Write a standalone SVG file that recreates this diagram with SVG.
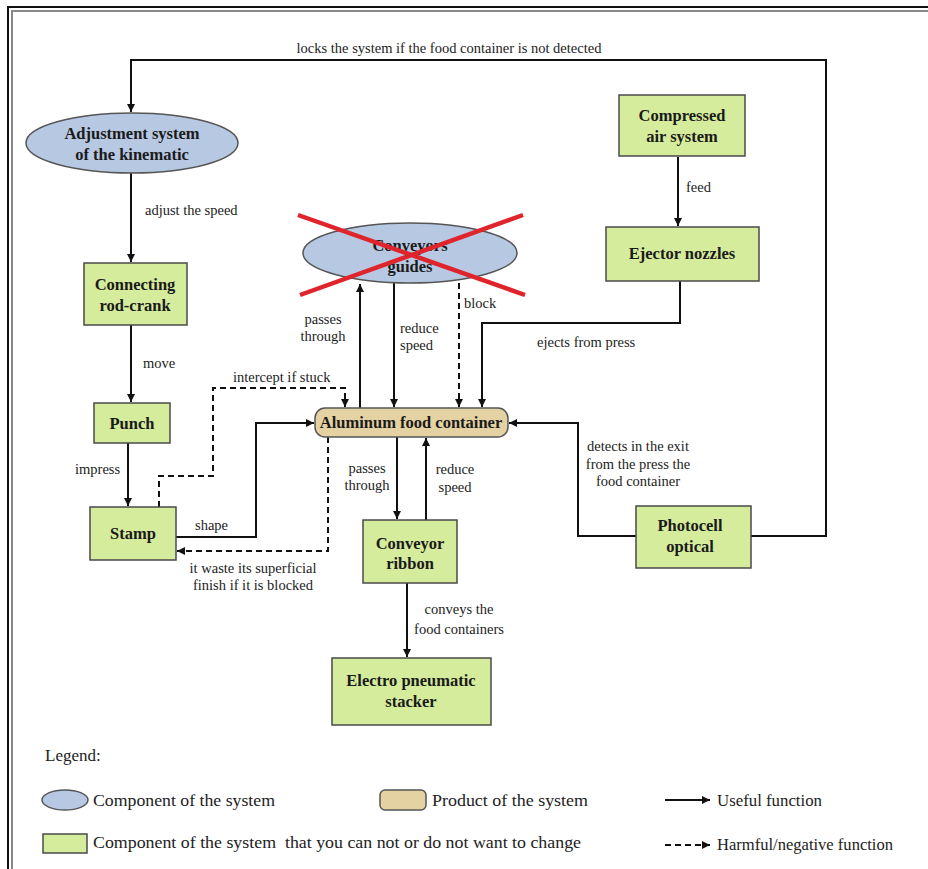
<svg xmlns="http://www.w3.org/2000/svg" width="928" height="869" viewBox="0 0 928 869" font-family="'Liberation Serif','Times New Roman',serif">
<defs>
<marker id="ah" viewBox="0 0 10 10" refX="10" refY="5" markerWidth="8" markerHeight="8" markerUnits="userSpaceOnUse" orient="auto"><path d="M0,0 L10,5 L0,10 z" fill="#111"/></marker>
<style>
.ln{fill:none;stroke:#111;stroke-width:2}
.ds{fill:none;stroke:#111;stroke-width:2;stroke-dasharray:6,4}
.gr{fill:#d5ec9c;stroke:#4a4a4a;stroke-width:1.5}
.bl{fill:#b7c8e2;stroke:#555;stroke-width:1.5}
.tn{fill:#e5d2a2;stroke:#555;stroke-width:1.5}
.nt{font-family:'Liberation Serif','Times New Roman',serif;font-weight:bold;font-size:16.5px;fill:#1a1a1a;text-anchor:middle}
.et{font-family:'Liberation Serif','Times New Roman',serif;font-size:14.5px;fill:#222}
.lg{font-family:'Liberation Serif','Times New Roman',serif;font-size:17px;fill:#222}
</style>
</defs>
<rect width="928" height="869" fill="#fff"/>
<g id="frame">
<path d="M8,869 V7 H928" fill="none" stroke="#111" stroke-width="2"/>
<path d="M12,869 V11 H928" fill="none" stroke="#888" stroke-width="2"/>
</g>

<g id="connectors">
<path class="ln" d="M750,536 H826 V60 H131 V112" marker-end="url(#ah)"/>
<text class="et" x="449" y="53" text-anchor="middle">locks the system if the food container is not detected</text>
<path class="ln" d="M131,173 V262" marker-end="url(#ah)"/>
<text class="et" x="145" y="215">adjust the speed</text>
<path class="ln" d="M131,325 V402" marker-end="url(#ah)"/>
<text class="et" x="143" y="368">move</text>
<path class="ln" d="M128,443 V506" marker-end="url(#ah)"/>
<text class="et" x="75" y="474">impress</text>
<path class="ln" d="M176,537 H256 V423 H314" marker-end="url(#ah)"/>
<text class="et" x="195" y="530">shape</text>
<path class="ds" d="M159,507 V476 H213 V388 H345 V407" marker-end="url(#ah)"/>
<text class="et" x="233" y="382">intercept if stuck</text>
<path class="ds" d="M328,437 V551 H177" marker-end="url(#ah)"/>
<text class="et" x="253" y="573" text-anchor="middle">it waste its superficial</text>
<text class="et" x="253" y="590" text-anchor="middle">finish if it is blocked</text>
<path class="ln" d="M360,408 V284" marker-end="url(#ah)"/>
<text class="et" x="323" y="324" text-anchor="middle">passes</text>
<text class="et" x="323" y="341" text-anchor="middle">through</text>
<path class="ln" d="M394,283 V407" marker-end="url(#ah)"/>
<text class="et" x="400" y="333">reduce</text>
<text class="et" x="400" y="350">speed</text>
<path class="ds" d="M459,283 V407" marker-end="url(#ah)"/>
<text class="et" x="464" y="308">block</text>
<path class="ln" d="M680,281 V323 H482 V407" marker-end="url(#ah)"/>
<text class="et" x="537" y="347">ejects from press</text>
<path class="ln" d="M678,157 V226" marker-end="url(#ah)"/>
<text class="et" x="686" y="192">feed</text>
<path class="ln" d="M636,536 H578 V423 H509" marker-end="url(#ah)"/>
<text class="et" x="638" y="451" text-anchor="middle">detects in the exit</text>
<text class="et" x="638" y="469" text-anchor="middle">from the press the</text>
<text class="et" x="638" y="486" text-anchor="middle">food container</text>
<path class="ln" d="M397,437 V519" marker-end="url(#ah)"/>
<text class="et" x="367" y="473" text-anchor="middle">passes</text>
<text class="et" x="367" y="490" text-anchor="middle">through</text>
<path class="ln" d="M426,520 V438" marker-end="url(#ah)"/>
<text class="et" x="455" y="474" text-anchor="middle">reduce</text>
<text class="et" x="455" y="492" text-anchor="middle">speed</text>
<path class="ln" d="M407,583 V657" marker-end="url(#ah)"/>
<text class="et" x="459" y="614" text-anchor="middle">conveys the</text>
<text class="et" x="459" y="634" text-anchor="middle">food containers</text>
</g>

<g id="adjustment">
<ellipse class="bl" cx="132" cy="143" rx="106" ry="30"/>
<text class="nt" x="132" y="139">Adjustment system</text>
<text class="nt" x="132" y="160">of the kinematic</text>
</g>
<g id="connecting-rod">
<rect class="gr" x="84" y="263" width="103" height="62"/>
<text class="nt" x="135" y="290">Connecting</text>
<text class="nt" x="135" y="311">rod-crank</text>
</g>
<g id="punch">
<rect class="gr" x="94" y="403" width="76" height="40"/>
<text class="nt" x="132" y="429">Punch</text>
</g>
<g id="stamp">
<rect class="gr" x="90" y="507" width="86" height="53"/>
<text class="nt" x="133" y="539">Stamp</text>
</g>
<g id="conveyor-guides">
<ellipse class="bl" cx="410" cy="253" rx="107" ry="30"/>
<text class="nt" x="410" y="251">Conveyors</text>
<text class="nt" x="410" y="272">guides</text>
<path d="M298,215 L525,295 M523,215 L300,295" stroke="#e0242c" stroke-width="4.5" fill="none"/>
</g>
<g id="aluminum">
<rect class="tn" x="315" y="408" width="193" height="29" rx="10"/>
<text class="nt" x="411" y="428">Aluminum food container</text>
</g>
<g id="compressed-air">
<rect class="gr" x="619" y="95" width="126" height="61"/>
<text class="nt" x="682" y="121">Compressed</text>
<text class="nt" x="682" y="142">air system</text>
</g>
<g id="ejector">
<rect class="gr" x="606" y="227" width="153" height="54"/>
<text class="nt" x="682" y="259">Ejector nozzles</text>
</g>
<g id="photocell">
<rect class="gr" x="636" y="506" width="115" height="62"/>
<text class="nt" x="690" y="531">Photocell</text>
<text class="nt" x="690" y="552">optical</text>
</g>
<g id="conveyor-ribbon">
<rect class="gr" x="363" y="520" width="94" height="63"/>
<text class="nt" x="410" y="549">Conveyor</text>
<text class="nt" x="410" y="569">ribbon</text>
</g>
<g id="stacker">
<rect class="gr" x="332" y="658" width="159" height="67"/>
<text class="nt" x="411" y="686">Electro pneumatic</text>
<text class="nt" x="411" y="707">stacker</text>
</g>

<g id="legend">
<text class="lg" x="45" y="761">Legend:</text>
<ellipse class="bl" cx="65" cy="800" rx="23" ry="10"/>
<text class="lg" x="93" y="806" textLength="182" lengthAdjust="spacingAndGlyphs">Component of the system</text>
<rect class="tn" x="380" y="790" width="46" height="20" rx="5"/>
<text class="lg" x="432" y="806" textLength="156" lengthAdjust="spacingAndGlyphs">Product of the system</text>
<path class="ln" d="M665,800 H710" marker-end="url(#ah)"/>
<text class="lg" x="717" y="806" textLength="105" lengthAdjust="spacingAndGlyphs">Useful function</text>
<rect class="gr" x="43" y="834" width="44" height="19"/>
<text class="lg" x="93" y="848" xml:space="preserve" textLength="488" lengthAdjust="spacingAndGlyphs">Component of the system  that you can not or do not want to change</text>
<path class="ds" d="M665,845 H710" stroke-dasharray="4,3" marker-end="url(#ah)"/>
<text class="lg" x="717" y="850" textLength="176" lengthAdjust="spacingAndGlyphs">Harmful/negative function</text>
</g>
</svg>
